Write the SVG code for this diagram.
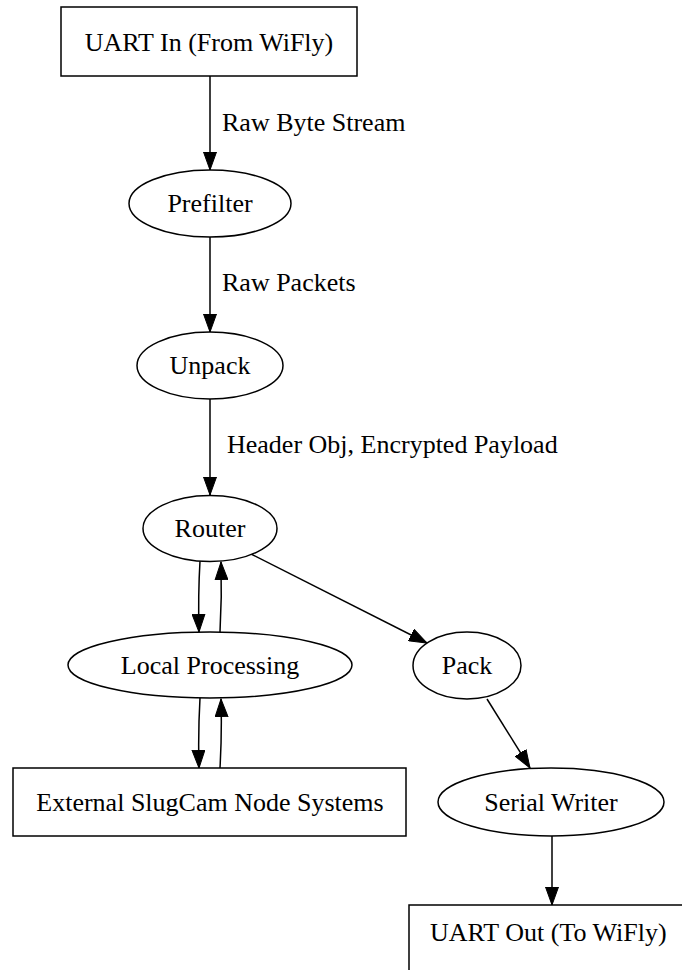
<svg xmlns="http://www.w3.org/2000/svg" width="682" height="970" viewBox="0 0 682 970">
<style>
.n{fill:#fff;stroke:#000;stroke-width:1.5}
.t{font-family:"Liberation Serif","Times New Roman",serif;font-size:26px;fill:#000}
.e{fill:none;stroke:#000;stroke-width:1.5}
</style>
<defs>
<marker id="ah" markerUnits="userSpaceOnUse" markerWidth="19" markerHeight="14" refX="18" refY="7" orient="auto">
<path d="M0,0.5 L18,7 L0,13.5 z" fill="#000" stroke="#000" stroke-width="1"/>
</marker>
</defs>
<rect width="682" height="970" fill="#fff"/>
<g id="edges">
<line class="e" x1="210" y1="76" x2="210" y2="170" marker-end="url(#ah)"/>
<text class="t" x="222" y="131">Raw Byte Stream</text>
<line class="e" x1="210" y1="237" x2="210" y2="332" marker-end="url(#ah)"/>
<text class="t" x="222" y="291">Raw Packets</text>
<line class="e" x1="210" y1="399" x2="210" y2="495" marker-end="url(#ah)"/>
<text class="t" x="227" y="453">Header Obj, Encrypted Payload</text>
<path class="e" d="M200,561 Q198,595 199,632" marker-end="url(#ah)"/>
<path class="e" d="M220,632 Q222,597 221,562" marker-end="url(#ah)"/>
<path class="e" d="M200,698 Q198,733 199,768" marker-end="url(#ah)"/>
<path class="e" d="M220,768 Q222,733 221,699" marker-end="url(#ah)"/>
<line class="e" x1="251" y1="554" x2="427" y2="643" marker-end="url(#ah)"/>
<line class="e" x1="487" y1="699" x2="530" y2="768" marker-end="url(#ah)"/>
<line class="e" x1="552" y1="836" x2="552" y2="905" marker-end="url(#ah)"/>
</g>
<g id="uart_in">
<rect class="n" x="61" y="7" width="296" height="69"/>
<text class="t" x="209" y="51" text-anchor="middle">UART In (From WiFly)</text>
</g>
<g id="prefilter">
<ellipse class="n" cx="210" cy="203.5" rx="81" ry="33.5"/>
<text class="t" x="210" y="212" text-anchor="middle">Prefilter</text>
</g>
<g id="unpack">
<ellipse class="n" cx="210" cy="365.5" rx="73" ry="33.5"/>
<text class="t" x="210" y="374" text-anchor="middle">Unpack</text>
</g>
<g id="router">
<ellipse class="n" cx="210" cy="528.5" rx="67" ry="33"/>
<text class="t" x="210" y="537" text-anchor="middle">Router</text>
</g>
<g id="local_processing">
<ellipse class="n" cx="210" cy="665" rx="142" ry="33"/>
<text class="t" x="210" y="674" text-anchor="middle">Local Processing</text>
</g>
<g id="external">
<rect class="n" x="13" y="768" width="393" height="68"/>
<text class="t" x="210" y="811" text-anchor="middle">External SlugCam Node Systems</text>
</g>
<g id="pack">
<ellipse class="n" cx="467" cy="665.5" rx="54" ry="33.5"/>
<text class="t" x="467" y="674" text-anchor="middle">Pack</text>
</g>
<g id="serial_writer">
<ellipse class="n" cx="551" cy="802" rx="113" ry="34"/>
<text class="t" x="551" y="811" text-anchor="middle">Serial Writer</text>
</g>
<g id="uart_out">
<rect class="n" x="409" y="905" width="290" height="80"/>
<text class="t" x="430" y="941">UART Out (To WiFly)</text>
</g>
</svg>
